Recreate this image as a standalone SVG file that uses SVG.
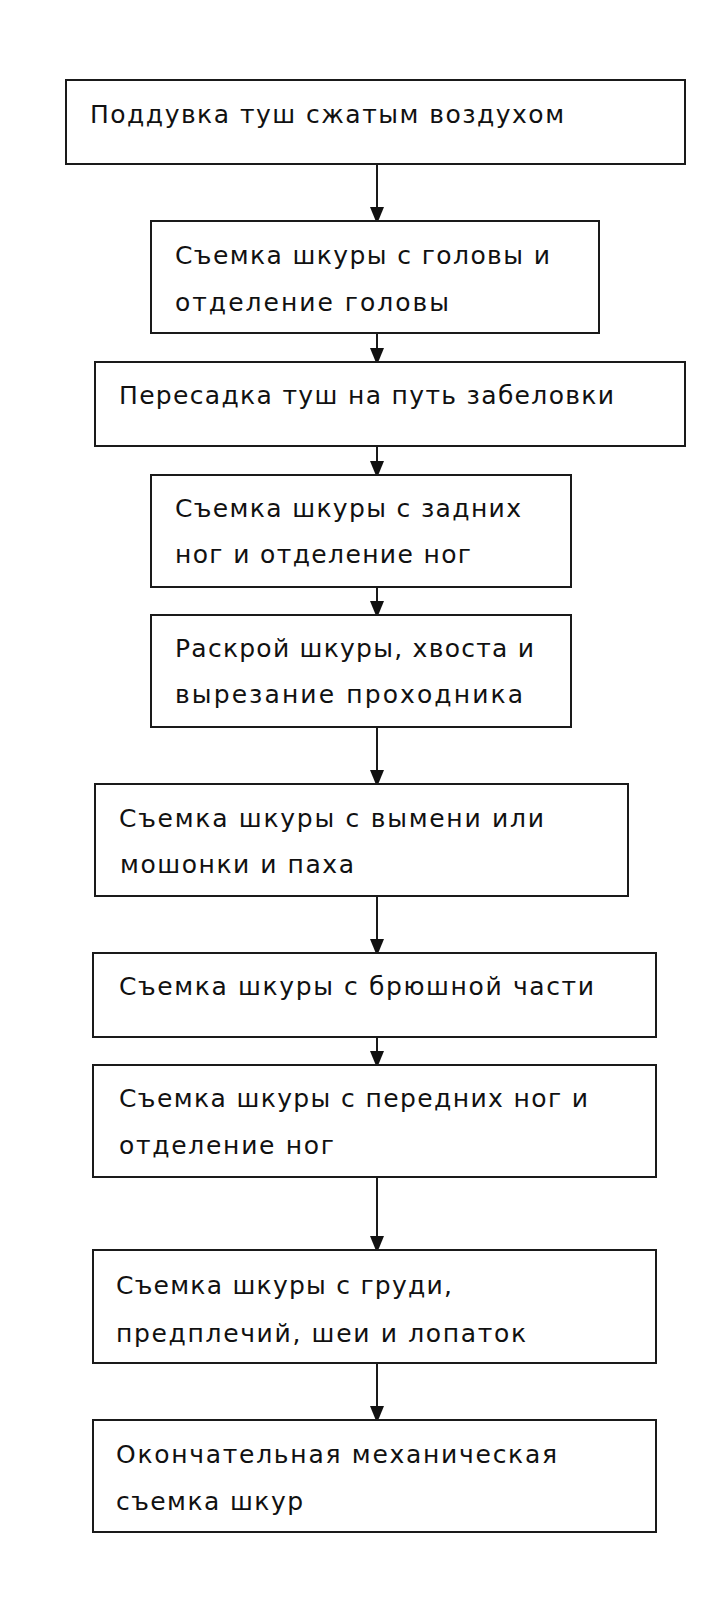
<svg xmlns="http://www.w3.org/2000/svg" width="723" height="1614" viewBox="0 0 723 1614">
<style>
.box{fill:#fff;stroke:#1a1a1a;stroke-width:2}
.t{font-family:"DejaVu Sans","Liberation Sans",sans-serif;font-size:25px;fill:#111}
.c{stroke:#1a1a1a;stroke-width:2;fill:none}
</style>
<defs>
<marker id="ah" viewBox="0 0 14 17" refX="14" refY="7" markerWidth="14" markerHeight="17" markerUnits="userSpaceOnUse" orient="auto">
<path d="M0,0 L17,7 L0,14 z" fill="#111"/>
</marker>
</defs>
<rect width="723" height="1614" fill="#fff"/>
<g id="connectors">
<line class="c" x1="377" y1="164" x2="377" y2="221" marker-end="url(#ah)"/>
<line class="c" x1="377" y1="333" x2="377" y2="362" marker-end="url(#ah)"/>
<line class="c" x1="377" y1="446" x2="377" y2="475" marker-end="url(#ah)"/>
<line class="c" x1="377" y1="587" x2="377" y2="615" marker-end="url(#ah)"/>
<line class="c" x1="377" y1="727" x2="377" y2="784" marker-end="url(#ah)"/>
<line class="c" x1="377" y1="896" x2="377" y2="953" marker-end="url(#ah)"/>
<line class="c" x1="377" y1="1037" x2="377" y2="1065" marker-end="url(#ah)"/>
<line class="c" x1="377" y1="1177" x2="377" y2="1250" marker-end="url(#ah)"/>
<line class="c" x1="377" y1="1363" x2="377" y2="1420" marker-end="url(#ah)"/>
</g>
<g id="n1"><rect class="box" x="66" y="80" width="619" height="84"/>
<text class="t" x="90" y="123" textLength="474" lengthAdjust="spacing">Поддувка туш сжатым воздухом</text></g>
<g id="n2"><rect class="box" x="151" y="221" width="448" height="112"/>
<text class="t" x="175" y="264" textLength="375" lengthAdjust="spacing">Съемка шкуры с головы и</text>
<text class="t" x="175" y="311" textLength="274" lengthAdjust="spacing">отделение головы</text></g>
<g id="n3"><rect class="box" x="95" y="362" width="590" height="84"/>
<text class="t" x="119" y="404" textLength="495" lengthAdjust="spacing">Пересадка туш на путь забеловки</text></g>
<g id="n4"><rect class="box" x="151" y="475" width="420" height="112"/>
<text class="t" x="175" y="517" textLength="346" lengthAdjust="spacing">Съемка шкуры с задних</text>
<text class="t" x="175" y="563" textLength="296" lengthAdjust="spacing">ног и отделение ног</text></g>
<g id="n5"><rect class="box" x="151" y="615" width="420" height="112"/>
<text class="t" x="175" y="657" textLength="359" lengthAdjust="spacing">Раскрой шкуры, хвоста и</text>
<text class="t" x="175" y="703" textLength="348" lengthAdjust="spacing">вырезание проходника</text></g>
<g id="n6"><rect class="box" x="95" y="784" width="533" height="112"/>
<text class="t" x="119" y="827" textLength="425" lengthAdjust="spacing">Съемка шкуры с вымени или</text>
<text class="t" x="120" y="873" textLength="234" lengthAdjust="spacing">мошонки и паха</text></g>
<g id="n7"><rect class="box" x="93" y="953" width="563" height="84"/>
<text class="t" x="119" y="995" textLength="475" lengthAdjust="spacing">Съемка шкуры с брюшной части</text></g>
<g id="n8"><rect class="box" x="93" y="1065" width="563" height="112"/>
<text class="t" x="119" y="1107" textLength="469" lengthAdjust="spacing">Съемка шкуры с передних ног и</text>
<text class="t" x="119" y="1154" textLength="215" lengthAdjust="spacing">отделение ног</text></g>
<g id="n9"><rect class="box" x="93" y="1250" width="563" height="113"/>
<text class="t" x="116" y="1294" textLength="336" lengthAdjust="spacing">Съемка шкуры с груди,</text>
<text class="t" x="116" y="1342" textLength="410" lengthAdjust="spacing">предплечий, шеи и лопаток</text></g>
<g id="n10"><rect class="box" x="93" y="1420" width="563" height="112"/>
<text class="t" x="116" y="1463" textLength="441" lengthAdjust="spacing">Окончательная механическая</text>
<text class="t" x="116" y="1510" textLength="187" lengthAdjust="spacing">съемка шкур</text></g>
</svg>
